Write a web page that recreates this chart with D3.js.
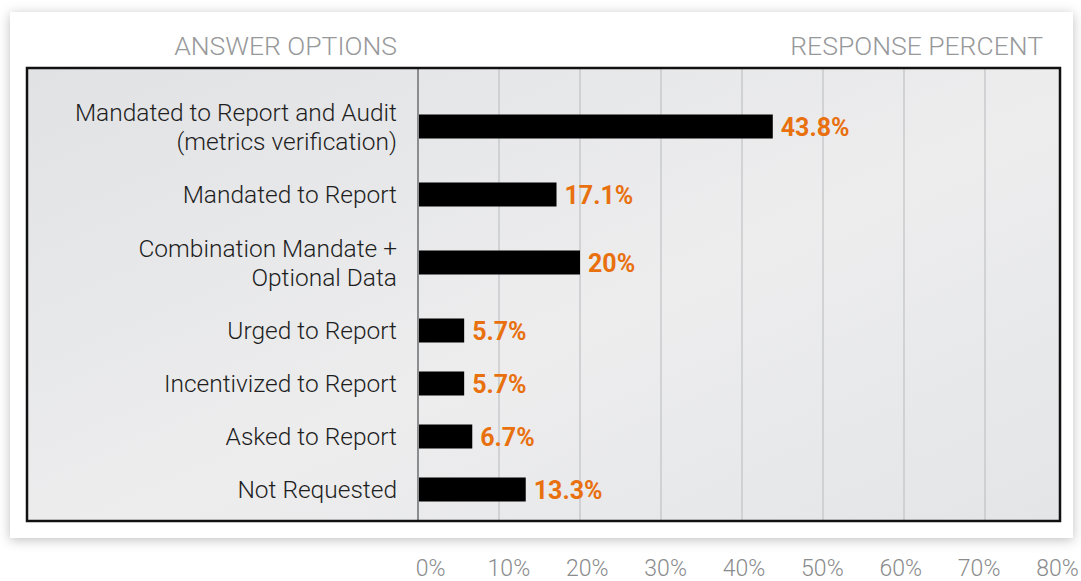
<!DOCTYPE html>
<html>
<head>
<meta charset="utf-8">
<script src="https://cdn.jsdelivr.net/npm/d3@7"></script>
<style>
  body { margin: 0; background: #fff; }
  svg text { font-family: Roboto, "Liberation Sans", sans-serif; }
</style>
</head>
<body>
<svg id="chart"></svg>
<script>
// answer options, each entry is the lines of the label
const categories = [
  ["Mandated to Report and Audit", "(metrics verification)"],
  ["Mandated to Report"],
  ["Combination Mandate +", "Optional Data"],
  ["Urged to Report"],
  ["Incentivized to Report"],
  ["Asked to Report"],
  ["Not Requested"]
];
const values = [43.8, 17.1, 20, 5.7, 5.7, 6.7, 13.3];
const valueLabels = ["43.8%", "17.1%", "20%", "5.7%", "5.7%", "6.7%", "13.3%"];
const tickValues = [0, 10, 20, 30, 40, 50, 60, 70, 80];
const gridValues = [10, 20, 30, 40, 50, 60, 70];

const W = 1081, H = 581;
const svg = d3.select("#chart").attr("width", W).attr("height", H);

// box and plot geometry
const box = {x: 27, y: 68, w: 1033, h: 453};
const axisX = 418;
const rowTop = 85, oneLine = 53, twoLine = 83;

const x = d3.scaleLinear().domain([0, 80]).range([axisX, axisX + 648]);
// bottom labels don't line up with the grid in the original
const xLabel = d3.scaleLinear().domain([0, 80]).range([430, 1057]);

// row centres from label line counts
let acc = rowTop;
const rowCenter = categories.map(lines => {
  const h = lines.length > 1 ? twoLine : oneLine;
  const c = acc + h / 2;
  acc += h;
  return c;
});

const defs = svg.append("defs");
const shadow = defs.append("filter").attr("id", "shadow")
    .attr("x", "-5%").attr("y", "-10%").attr("width", "110%").attr("height", "125%");
shadow.append("feDropShadow")
    .attr("dx", 0).attr("dy", 2).attr("stdDeviation", 6)
    .attr("flood-color", "#000").attr("flood-opacity", 0.25);

const grad = defs.append("linearGradient").attr("id", "bg")
    .attr("x1", "0%").attr("y1", "0%").attr("x2", "100%").attr("y2", "100%");
grad.append("stop").attr("offset", "0%").attr("stop-color", "#e1e2e4");
grad.append("stop").attr("offset", "55%").attr("stop-color", "#ededee");
grad.append("stop").attr("offset", "100%").attr("stop-color", "#e4e5e7");

// white card
svg.append("rect")
    .attr("x", 10).attr("y", 12).attr("width", 1063).attr("height", 526)
    .attr("fill", "#fff")
    .attr("filter", "url(#shadow)");

// headers
svg.append("text")
    .attr("x", 397).attr("y", 55)
    .attr("text-anchor", "end")
    .attr("font-size", 26.5).attr("font-weight", 300)
    .attr("fill", "#97989a")
    .text("ANSWER OPTIONS");

svg.append("text")
    .attr("x", 1043).attr("y", 55)
    .attr("text-anchor", "end")
    .attr("font-size", 26.5).attr("font-weight", 300)
    .attr("fill", "#97989a")
    .text("RESPONSE PERCENT");

// inner panel
svg.append("rect")
    .attr("x", box.x).attr("y", box.y).attr("width", box.w).attr("height", box.h)
    .attr("fill", "url(#bg)");

// grid lines
svg.append("g")
  .selectAll("line")
  .data(gridValues)
  .join("line")
    .attr("x1", d => x(d)).attr("x2", d => x(d))
    .attr("y1", box.y).attr("y2", box.y + box.h)
    .attr("stroke", "#c4c5c7")
    .attr("stroke-width", 1.3);

// left axis line
svg.append("line")
    .attr("x1", axisX).attr("x2", axisX)
    .attr("y1", box.y).attr("y2", box.y + box.h)
    .attr("stroke", "#8c8d8f")
    .attr("stroke-width", 2);

// bars
const barH = 24;
svg.append("g")
  .selectAll("rect")
  .data(values)
  .join("rect")
    .attr("x", x(0) + 1)
    .attr("y", (d, i) => rowCenter[i] - barH / 2)
    .attr("width", d => x(d) - x(0) - 1)
    .attr("height", barH)
    .attr("fill", "#000");

// value labels
svg.append("g")
  .selectAll("text")
  .data(values)
  .join("text")
    .attr("x", d => x(d) + 8)
    .attr("y", (d, i) => rowCenter[i])
    .attr("dy", "0.36em")
    .attr("font-size", 25)
    .attr("font-weight", 700)
    .attr("fill", "#e8700f")
    .text((d, i) => valueLabels[i]);

// category labels
const lineGap = 29;
const labels = svg.append("g")
  .selectAll("text")
  .data(categories)
  .join("text")
    .attr("text-anchor", "end")
    .attr("font-size", 24.5)
    .attr("font-weight", 300)
    .attr("fill", "#1e1e1e");

labels.each(function(lines, i) {
  const top = rowCenter[i] - (lines.length - 1) * lineGap / 2;
  d3.select(this).selectAll("tspan")
    .data(lines)
    .join("tspan")
      .attr("x", 397)
      .attr("y", (d, j) => top + j * lineGap)
      .attr("dy", "0.36em")
      .text(d => d);
});

// frame
svg.append("rect")
    .attr("x", box.x).attr("y", box.y).attr("width", box.w).attr("height", box.h)
    .attr("fill", "none")
    .attr("stroke", "#111")
    .attr("stroke-width", 2.5);

// bottom axis labels
const axis = svg.append("g")
    .attr("transform", "translate(0,553)")
    .call(d3.axisBottom(xLabel).tickValues(tickValues).tickFormat(d => d + "%").tickSize(0).tickPadding(0));
axis.select(".domain").remove();
axis.selectAll("text")
    .attr("y", 0)
    .attr("dy", "1.0em")
    .attr("font-family", "Roboto, sans-serif")
    .attr("font-size", 23)
    .attr("font-weight", 300)
    .attr("fill", "#8a8b8d");
</script>
</body>
</html>
